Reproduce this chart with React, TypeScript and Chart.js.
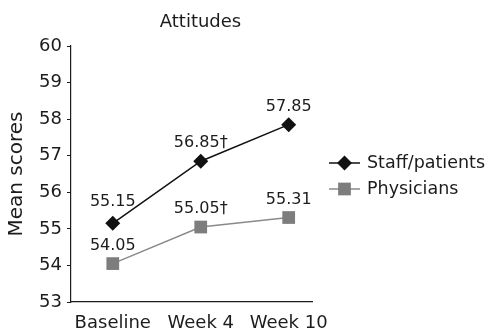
import React, { useEffect, useRef } from "react";
import { Chart, registerables } from "chart.js";

Chart.register(...registerables);

const categories = ["Baseline", "Week 4", "Week 10"];
const staffValues = [55.15, 56.85, 57.85];
const physicianValues = [54.05, 55.05, 55.31];
const staffNotes = ["", "†", ""];
const physicianNotes = ["", "†", ""];
const seriesNames = ["Staff/patients", "Physicians"];
const chartTitle = "Attitudes";
const yTitle = "Mean scores";
const yMin = 53;
const yMax = 60;

const FONT = "'DejaVu Sans', sans-serif";
const TEXT = "#1c1c1c";
const STAFF_COLOR = "#111111";
const PHYS_LINE = "#8a8a8a";
const PHYS_MARK = "#7d7d7d";

const fmt = (v: number) => v.toFixed(2);
const toPoints = (vals: number[]) => vals.map((v, i) => ({ x: i, y: v }));

function drawMarker(ctx: CanvasRenderingContext2D, style: string, x: number, y: number, r: number, color: string) {
  ctx.save();
  ctx.fillStyle = color;
  ctx.beginPath();
  if (style === "rectRot") {
    ctx.moveTo(x, y - r);
    ctx.lineTo(x + r, y);
    ctx.lineTo(x, y + r);
    ctx.lineTo(x - r, y);
    ctx.closePath();
  } else {
    const s = Math.SQRT1_2 * r;
    ctx.rect(x - s, y - s, 2 * s, 2 * s);
  }
  ctx.fill();
  ctx.restore();
}

const annotationsPlugin = {
  id: "annotations",
  afterDatasetsDraw(chart: any) {
    const ctx: CanvasRenderingContext2D = chart.ctx;
    const area = chart.chartArea;
    ctx.save();
    // title
    ctx.fillStyle = TEXT;
    ctx.font = `18px ${FONT}`;
    ctx.textAlign = "center";
    ctx.textBaseline = "middle";
    ctx.fillText(chartTitle, (area.left + area.right) / 2 + 9, 22);

    // data labels
    ctx.font = `16px ${FONT}`;
    chart.data.datasets.forEach((ds: any, di: number) => {
      const meta = chart.getDatasetMeta(di);
      const notes = ds.notes as string[];
      meta.data.forEach((pt: any, i: number) => {
        const label = fmt(ds.data[i].y) + (notes[i] || "");
        let ly = pt.y - 18;
        const w = ctx.measureText(label).width;
        const next = meta.data[i + 1];
        if (next) {
          const xr = pt.x + w / 2;
          const lineY = pt.y + ((next.y - pt.y) * (xr - pt.x)) / (next.x - pt.x);
          const bottom = ly + 7;
          if (bottom > lineY) ly -= Math.min(4, bottom - lineY);
        }
        ctx.fillText(label, pt.x, ly);
      });
    });

    // legend
    const lx0 = 329;
    const lx1 = 360;
    const rows = [163, 189];
    chart.data.datasets.forEach((ds: any, di: number) => {
      const y = rows[di];
      ctx.strokeStyle = ds.borderColor;
      ctx.lineWidth = ds.borderWidth;
      ctx.beginPath();
      ctx.moveTo(lx0, y);
      ctx.lineTo(lx1, y);
      ctx.stroke();
      drawMarker(ctx, ds.pointStyle, (lx0 + lx1) / 2, y, ds.pointRadius, ds.pointBackgroundColor);
      ctx.fillStyle = TEXT;
      ctx.font = `17.5px ${FONT}`;
      ctx.textAlign = "left";
      ctx.textBaseline = "middle";
      ctx.fillText(ds.label, 367, y);
    });
    ctx.restore();
  },
};

export default function App() {
  const ref = useRef<HTMLCanvasElement>(null);

  useEffect(() => {
    if (!ref.current) return;
    const chart = new Chart(ref.current, {
      type: "line",
      data: {
        datasets: [
          {
            label: seriesNames[0],
            data: toPoints(staffValues),
            notes: staffNotes,
            borderColor: STAFF_COLOR,
            borderWidth: 1.5,
            pointStyle: "rectRot",
            pointRadius: 7.5,
            pointBackgroundColor: STAFF_COLOR,
            pointBorderColor: STAFF_COLOR,
            pointBorderWidth: 0,
          },
          {
            label: seriesNames[1],
            data: toPoints(physicianValues),
            notes: physicianNotes,
            borderColor: PHYS_LINE,
            borderWidth: 1.5,
            pointStyle: "rect",
            pointRadius: 9,
            pointBackgroundColor: PHYS_MARK,
            pointBorderColor: PHYS_MARK,
            pointBorderWidth: 0,
          },
        ] as any,
      },
      options: {
        animation: false,
        responsive: false,
        devicePixelRatio: 1,
        layout: { padding: { left: 0, top: 46, right: 180, bottom: 0 } },
        plugins: {
          legend: { display: false },
          title: { display: false },
          tooltip: { enabled: false },
        },
        scales: {
          x: {
            type: "linear",
            min: -0.475,
            max: 2.265,
            afterBuildTicks: (scale: any) => {
              scale.ticks = categories.map((_, i) => ({ value: i }));
            },
            afterFit: (scale: any) => {
              scale.height = 33;
            },
            grid: { display: false, drawTicks: false },
            border: { display: true, color: TEXT, width: 1.2 },
            ticks: {
              font: { family: FONT, size: 18 },
              color: TEXT,
              padding: 11,
              maxRotation: 0,
              autoSkip: false,
              callback: (v: any) => categories[Math.round(Number(v))] ?? "",
            },
          },
          y: {
            min: yMin,
            max: yMax,
            afterFit: (scale: any) => {
              scale.width = 71;
            },
            grid: { drawOnChartArea: false, drawTicks: true, tickLength: 4, color: TEXT },
            border: { display: true, color: TEXT, width: 1.2 },
            ticks: {
              stepSize: 1,
              font: { family: FONT, size: 18 },
              color: TEXT,
              padding: 5,
            },
            title: {
              display: true,
              text: yTitle,
              font: { family: FONT, size: 20 },
              color: TEXT,
              padding: { top: 5, bottom: 0 },
            },
          },
        },
      } as any,
      plugins: [annotationsPlugin],
    });
    return () => chart.destroy();
  }, []);

  return (
    <div style={{ position: "absolute", left: 0, top: 0, width: 492, height: 335 }}>
      <canvas ref={ref} width={492} height={335} />
    </div>
  );
}
